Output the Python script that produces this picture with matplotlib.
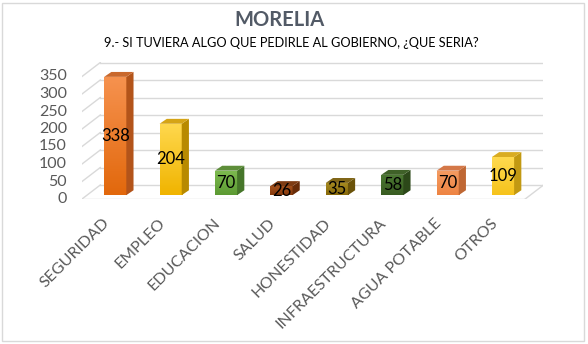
import matplotlib
matplotlib.use("Agg")
import matplotlib.pyplot as plt
import numpy as np
from matplotlib.patches import Polygon, Rectangle
from matplotlib.colors import LinearSegmentedColormap
from matplotlib.transforms import offset_copy

categorias = ["SEGURIDAD", "EMPLEO", "EDUCACION", "SALUD", "HONESTIDAD",
              "INFRAESTRUCTURA", "AGUA POTABLE", "OTROS"]
valores = [338, 204, 70, 26, 35, 58, 70, 109]
ticks_y = [0, 50, 100, 150, 200, 250, 300, 350]

# front colour (top, bottom), side colour, top colour
colores = [
    ("#F6924F", "#E2680C", "#B3541A", "#C9682C"),
    ("#FFD84E", "#F0B400", "#B88A00", "#D5A416"),
    ("#7EBB50", "#5C9A33", "#46762A", "#5E8E3A"),
    ("#A85420", "#86390B", "#682C09", "#7E3C14"),
    ("#A88C22", "#87690A", "#6A5209", "#806618"),
    ("#4C7833", "#385C21", "#2C4819", "#3F6128"),
    ("#F49C62", "#EE8443", "#BF6733", "#D47848"),
    ("#FFDA50", "#F6C31C", "#C29912", "#D9AC22"),
]

plt.rcParams['font.family'] = ['Lato', 'DejaVu Sans']
gris = "#595959"

fig = plt.figure(figsize=(5.88, 3.44), dpi=100)
fig.patches.append(Rectangle((2 / 588, 3 / 344), 582 / 588, 338 / 344,
                             transform=fig.transFigure, fill=False,
                             edgecolor="#D9D9D9", linewidth=1))

x0, x1 = -0.6, 7.73
ymax = 392
ax = fig.add_axes([82 / 588, 145 / 344, 461.5 / 588, ymax * 0.35 / 344])
ax.set_xlim(x0, x1)
ax.set_ylim(0, ymax)
ax.axis("off")

# back wall depth and bar depth (x units, y units)
wdx, wdy = 0.33, 40
bdx, bdy = 0.13, 14
ancho = 0.40
base = 11  # bars stand a little behind the front edge of the floor

grid_c = "#D9D9D9"
for v in ticks_y:
    ax.plot([x0, x0 + wdx], [v, v + wdy], color=grid_c, lw=1, zorder=0)
    ax.plot([x0 + wdx, x1], [v + wdy, v + wdy], color=grid_c, lw=1, zorder=0)
ax.plot([x0, x1 - wdx], [0, 0], color=grid_c, lw=1, zorder=0)
ax.plot([x1 - wdx, x1], [0, wdy], color=grid_c, lw=1, zorder=0)

for i, (v, c) in enumerate(zip(valores, colores)):
    izq, der = i - ancho / 2, i + ancho / 2
    arriba = base + v
    barra = ax.bar(i, v, width=ancho, bottom=base, color="none",
                   edgecolor="none", zorder=2)[0]
    cmap = LinearSegmentedColormap.from_list("g", [c[1], c[0]])
    grad = np.linspace(0, 1, 64).reshape(-1, 1)
    im = ax.imshow(grad, cmap=cmap, origin="lower", aspect="auto",
                   extent=[izq, der, base, arriba], zorder=2)
    im.set_clip_path(barra)
    ax.add_patch(Polygon([[der, base], [der + bdx, base + bdy],
                          [der + bdx, arriba + bdy], [der, arriba]],
                         closed=True, facecolor=c[2], edgecolor="none", zorder=2))
    ax.add_patch(Polygon([[izq, arriba], [der, arriba],
                          [der + bdx, arriba + bdy], [izq + bdx, arriba + bdy]],
                         closed=True, facecolor=c[3], edgecolor="none", zorder=2))
    ax.text(i, base + v / 2, str(v), ha="center", va="center",
            fontsize=12, color="black", zorder=3)

for v in ticks_y:
    ax.text(x0, v, str(v), ha="right", va="center", fontsize=11.5, color=gris,
            transform=offset_copy(ax.transData, fig=fig, x=-15, y=0, units="dots"))

for i, nombre in enumerate(categorias):
    ax.text(i, 0, nombre, ha="right", va="center", rotation=45,
            rotation_mode="anchor", fontsize=11.5, color=gris,
            transform=offset_copy(ax.transData, fig=fig, x=-8, y=-22, units="dots"))

fig.text(280 / 588, 1 - 20.5 / 344, "MORELIA", ha="center", va="center",
         fontsize=14.5, fontweight="bold", color="#525A66")
fig.text(291 / 588, 1 - 43 / 344, "9.- SI TUVIERA ALGO QUE PEDIRLE AL GOBIERNO, ¿QUE SERIA?",
         ha="center", va="center", fontsize=9.2, color="black")

fig.savefig("out.png", dpi=100)
